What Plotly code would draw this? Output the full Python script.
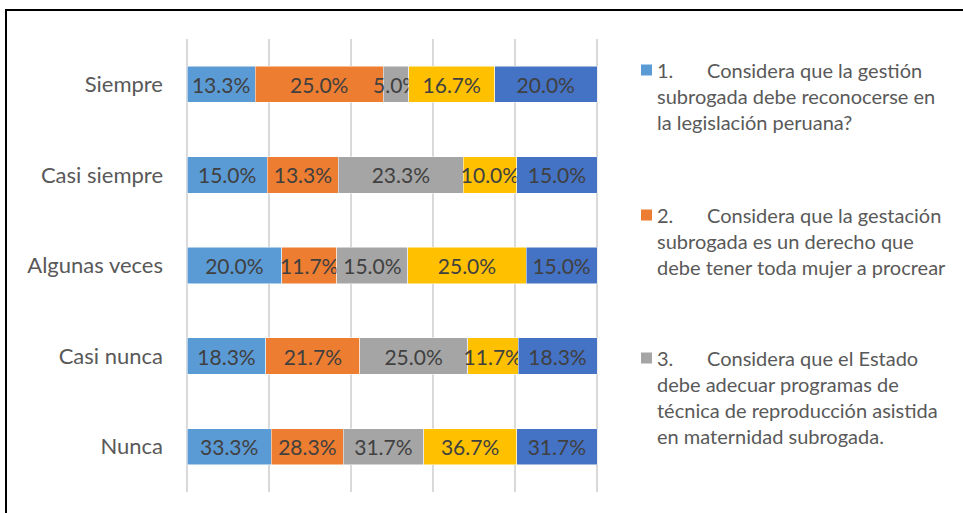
import plotly.graph_objects as go

# ---------------- data ----------------
categories = ["Siempre", "Casi siempre", "Algunas veces", "Casi nunca", "Nunca"]
series_names = [
    "1. Considera que la gestión subrogada debe reconocerse en la legislación peruana?",
    "2. Considera que la gestación subrogada es un derecho que debe tener toda mujer a procrear",
    "3. Considera que el Estado debe adecuar programas de técnica de reproducción asistida en maternidad subrogada.",
    "4.",
    "5.",
]
s1 = [13.3, 15.0, 20.0, 18.3, 33.3]
s2 = [25.0, 13.3, 11.7, 21.7, 28.3]
s3 = [5.0, 23.3, 15.0, 25.0, 31.7]
s4 = [16.7, 10.0, 25.0, 11.7, 36.7]
s5 = [20.0, 15.0, 15.0, 18.3, 31.7]
series_values = [s1, s2, s3, s4, s5]
colors = ["#5B9BD5", "#ED7D31", "#A5A5A5", "#FFC000", "#4472C4"]

legend_blocks = [
    ("1.", ["Considera que la gestión", "subrogada debe reconocerse en", "la legislación peruana?"]),
    ("2.", ["Considera que la gestación", "subrogada es un derecho que", "debe tener toda mujer a procrear"]),
    ("3.", ["Considera que el Estado", "debe adecuar programas de", "técnica de reproducción asistida", "en maternidad subrogada."]),
]

# ---------------- layout geometry (pixels) ----------------
W, H = 963, 513
PADPX = 3  # padding so the 0 and 100 gridlines are drawn
L, R, T, B = 187 - PADPX, 597 + PADPX, 39, 492
FONT = "Lato"
XPAD = 100 * PADPX / 410


def px_x(X):
    return (X - L) / (R - L)


def px_y(Y):
    return (B - Y) / (B - T)


fig = go.Figure()
for name, vals, col in zip(series_names, series_values, colors):
    fig.add_trace(go.Bar(
        y=categories, x=vals, orientation="h", name=name,
        marker=dict(color=col, line=dict(color="white", width=0.5)),
        text=[f"{v:.1f}%" for v in vals],
        texttemplate="%{text}",
        textposition="inside", insidetextanchor="middle",
        constraintext="none", textangle=0,
        textfont=dict(family=FONT, size=21, color="#404040"),
        showlegend=False, hoverinfo="skip",
    ))

fig.update_layout(
    width=W, height=H,
    margin=dict(l=L, r=W - R, t=T, b=H - B, pad=0),
    barmode="stack", barnorm="percent", bargap=0.6,
    plot_bgcolor="white", paper_bgcolor="white",
    font=dict(family=FONT, color="#595959"),
    xaxis=dict(range=[-XPAD, 100 + XPAD], dtick=20, tick0=0, showgrid=True, gridcolor="#D9D9D9", gridwidth=1.5,
               zeroline=False, showticklabels=False, showline=False, fixedrange=True),
    yaxis=dict(categoryorder="array", categoryarray=categories, autorange="reversed",
               showgrid=False, showline=False, ticks="", ticklabelstandoff=23 - PADPX,
               tickfont=dict(family=FONT, size=22, color="#595959")),
)

shapes = [
    # outer chart border (partially outside the picture)
    dict(type="rect", xref="paper", yref="paper",
         x0=px_x(6), x1=px_x(1000), y0=px_y(540), y1=px_y(10),
         line=dict(color="black", width=2), fillcolor="rgba(0,0,0,0)", layer="above"),
]
annotations = []
first_line_y = [70, 215, 358]
line_step = 26
for (num, lines), y0, col in zip(legend_blocks, first_line_y, colors[:3]):
    shapes.append(dict(type="rect", xref="paper", yref="paper",
                       x0=px_x(641), x1=px_x(652), y0=px_y(y0 + 5.5), y1=px_y(y0 - 5.5),
                       fillcolor=col, line=dict(width=0)))
    annotations.append(dict(text=num, xref="paper", yref="paper", x=px_x(655), y=px_y(y0),
                            xanchor="left", yanchor="middle", showarrow=False,
                            font=dict(family=FONT, size=20, color="#595959")))
    for i, ln in enumerate(lines):
        xx = 705 if i == 0 else 655
        annotations.append(dict(text=ln, xref="paper", yref="paper", x=px_x(xx), y=px_y(y0 + i * line_step),
                                xanchor="left", yanchor="middle", showarrow=False,
                                font=dict(family=FONT, size=20, color="#595959")))

fig.update_layout(shapes=shapes, annotations=annotations)
fig.write_html("out.html", config={"displayModeBar": False},
               post_script="document.body.style.margin='0px';document.body.style.overflow='hidden';")
